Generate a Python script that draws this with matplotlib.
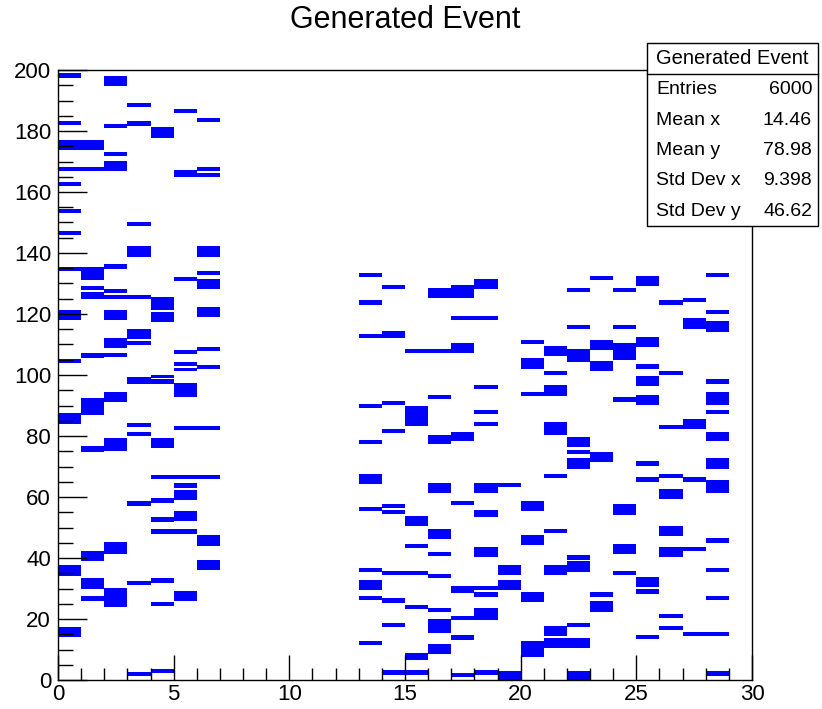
import matplotlib
matplotlib.use("Agg")
import matplotlib.pyplot as plt
from matplotlib.patches import Rectangle
from matplotlib.lines import Line2D
from matplotlib.ticker import MultipleLocator

plt.rcParams["font.family"] = ["Liberation Sans", "DejaVu Sans"]

# filled y ranges (low, high) in each x bin of width 1
seg_00 = [(197.5, 198.8), (182, 183), (174, 177), (167, 168), (162, 163), (153.2, 154.3),
          (146, 147), (134.2, 135.3), (118.2, 121), (104.2, 105.2), (84.2, 87.3),
          (34.2, 37.4), (14.3, 17.3)]
seg_01 = [(174, 177), (167, 168), (131.2, 135.3), (128, 129), (125, 127), (105.8, 107.1),
          (87, 92.2), (75, 76.6), (39.2, 42.2), (30.1, 33.4), (26, 27.3)]
seg_02 = [(195, 198), (181, 182.2), (172.1, 173.1), (167.1, 170.1), (135, 136.1), (127, 127.9),
          (125, 126), (118.2, 121), (109, 112), (106, 107.1), (91.2, 94.2), (75.1, 79.2),
          (41.3, 45.2), (24, 30.1)]
seg_03 = [(188, 189), (181.8, 183), (149, 150), (139, 142), (125, 126), (112, 115), (110, 111),
          (97.1, 99.1), (83.1, 84.2), (80.1, 81.2), (57.1, 58.4), (31.2, 32.2), (1.3, 2.6)]
seg_04 = [(178, 181.2), (121.4, 125.3), (117.6, 120.6), (99.1, 100), (97.1, 98.5), (76.2, 79.2),
          (66, 67.1), (58.2, 59.4), (52, 53.2), (48, 49.4), (32.1, 33.4), (24.3, 25.3),
          (2.6, 3.6)]
seg_05 = [(186, 187), (165, 167.1), (131, 132.1), (107, 108), (103, 104), (101.3, 102.2),
          (93.1, 97.1), (82.1, 83.1), (66, 67.1), (63.2, 64.3), (59.2, 62), (52.2, 55.2),
          (48, 49.4), (26, 29)]
seg_06 = [(183, 184), (167, 168), (165, 166), (139, 142), (133.1, 134.1), (128.2, 131.2),
          (119.1, 122.1), (108, 109), (102, 103), (82, 83), (66, 67), (44.2, 47.3),
          (36.1, 39.2)]
seg_13 = [(132.2, 133.3), (123.2, 124.3), (112.3, 113.4), (89.4, 90.5), (77.5, 78.6),
          (64.5, 67.4), (55.6, 56.7), (35.5, 36.6), (29.5, 32.5), (26.4, 27.5), (11.5, 12.6)]
seg_14 = [(128.3, 129.4), (112.3, 114.4), (90.3, 91.4), (81.2, 82.3), (56.5, 57.6), (54.5, 55.6),
          (34.6, 35.7), (25.5, 26.6), (17.6, 18.7), (1.9, 3)]
seg_15 = [(107.4, 108.5), (83.3, 89.6), (50.5, 53.6), (43.4, 44.5), (34.6, 35.7), (23.5, 24.6),
          (6.6, 8.7), (1.9, 3)]
seg_16 = [(125.4, 128.3), (107.4, 108.5), (92.3, 93.4), (77.6, 80.3), (61.5, 64.5), (46.4, 49.5),
          (40.7, 41.7), (33.6, 34.6), (22.5, 23.6), (15.6, 19.7), (8.7, 11.7)]
seg_17 = [(125.4, 129.4), (118.2, 119.3), (107.4, 110.4), (78.6, 81.3), (57.6, 58.5),
          (28.6, 30.6), (19.7, 20.8), (13.4, 14.5), (1.1, 2.2)]
seg_18 = [(128.3, 131.4), (118.2, 119.3), (95.4, 96.5), (87.3, 88.4), (83.3, 84.4), (61.5, 64.5),
          (53.6, 55.6), (40.5, 43.5), (29.5, 30.6), (27.5, 28.6), (19.7, 23.5), (1.9, 3)]
seg_19 = [(63.4, 64.5), (34.6, 37.7), (29.5, 32.6), (0, 2.7)]
seg_20 = [(110.3, 111.4), (102.2, 105.4), (93.2, 94.3), (55.6, 58.7), (44.5, 47.4), (25.6, 28.6),
          (7.7, 12.6)]
seg_21 = [(106.3, 109.5), (100.2, 101.3), (93.4, 96.5), (80.4, 84.4), (66.3, 67.4), (48.4, 49.5),
          (34.6, 37.7), (14.5, 17.6), (10.6, 13.7)]
seg_22 = [(127.2, 128.3), (115.3, 116.4), (104.4, 108.4), (76.5, 79.5), (74.3, 75.4), (69.4, 72.5),
          (39.6, 40.7), (35.5, 38.8), (17.6, 18.7), (10.6, 13.7), (0, 2.7)]
seg_23 = [(131.3, 132.3), (108.2, 111.4), (101.3, 104.4), (71.5, 74.5), (27.5, 28.6), (22.6, 25.6)]
seg_24 = [(127.2, 128.3), (115.3, 116.4), (105.1, 110.4), (91.4, 92.5), (54.4, 57.6), (41.5, 44.5),
          (34.5, 35.6)]
seg_25 = [(129.2, 132.3), (109.3, 112.3), (102.2, 103.3), (96.4, 99.5), (90.4, 93.4), (70.4, 71.5),
          (65.2, 66.3), (30.6, 33.6), (28.5, 29.6), (13.6, 14.6)]
seg_26 = [(123.2, 124.3), (100.2, 101.3), (82.3, 83.4), (66.3, 67.4), (59.5, 62.4), (47.4, 50.5),
          (40.5, 43.5), (20.5, 21.6), (16.5, 17.6)]
seg_27 = [(124.2, 125.2), (115.3, 118.5), (82.3, 85.4), (65.2, 66.3), (42.4, 43.5), (14.5, 15.6)]
seg_28 = [(132.2, 133.3), (120, 121.1), (114.3, 117.5), (97.3, 98.4), (90.4, 94.4), (87.3, 88.4),
          (78.4, 81.3), (69.4, 72.5), (61.5, 65.5), (45.2, 46.3), (35.5, 36.6), (26.4, 27.5),
          (14.5, 15.6), (1.6, 2.7)]

columns = [(0, seg_00), (1, seg_01), (2, seg_02), (3, seg_03), (4, seg_04), (5, seg_05),
           (6, seg_06), (13, seg_13), (14, seg_14), (15, seg_15), (16, seg_16), (17, seg_17),
           (18, seg_18), (19, seg_19), (20, seg_20), (21, seg_21), (22, seg_22), (23, seg_23),
           (24, seg_24), (25, seg_25), (26, seg_26), (27, seg_27), (28, seg_28)]

title = "Generated Event"
stat_names = ["Entries", "Mean x", "Mean y", "Std Dev x", "Std Dev y"]
stat_values = ["6000", "14.46", "78.98", "9.398", "46.62"]

W, H = 822, 709
fig = plt.figure(figsize=(W / 100, H / 100), dpi=100)
ax = fig.add_axes([58 / W, 1 - 680 / H, (752 - 58) / W, (680 - 70) / H])

xs, bottoms, heights = [], [], []
for x, segs in columns:
    for lo, hi in segs:
        xs.append(x)
        bottoms.append(lo - 0.15)
        heights.append(hi - lo + 0.3)
ax.bar(xs, heights, bottom=bottoms, width=1, align="edge", color="#0000ff", linewidth=0)

ax.set_xlim(0, 30)
ax.set_ylim(0, 200)
ax.xaxis.set_major_locator(MultipleLocator(5))
ax.xaxis.set_minor_locator(MultipleLocator(1))
ax.yaxis.set_major_locator(MultipleLocator(20))
ax.yaxis.set_minor_locator(MultipleLocator(5))
ax.tick_params(which="both", direction="in", top=False, right=False, labelsize=16, width=1)
ax.tick_params(axis="y", which="major", length=21, pad=5)
ax.tick_params(axis="y", which="minor", length=11)
ax.tick_params(axis="x", which="major", length=18, pad=3)
ax.tick_params(axis="x", which="minor", length=9)
for s in ax.spines.values():
    s.set_linewidth(1)

fig.text(405 / W, 1 - 20 / H, title, ha="center", va="center", fontsize=22)

# stats box
bx0, bx1, by0, by1 = 647, 818, 43, 226
fig.add_artist(Rectangle((bx0 / W, 1 - by1 / H), (bx1 - bx0) / W, (by1 - by0) / H,
                         transform=fig.transFigure, facecolor="white", edgecolor="black",
                         linewidth=1, zorder=5))
fig.add_artist(Line2D([bx0 / W, bx1 / W], [1 - 74 / H, 1 - 74 / H], transform=fig.transFigure,
                      color="black", linewidth=1, zorder=6))
fig.text((bx0 + bx1) / 2 / W, 1 - 59 / H, title, ha="center", va="center", fontsize=14.5, zorder=7)
for i, (name, val) in enumerate(zip(stat_names, stat_values)):
    yy = 1 - (90 + i * 30.3) / H
    fig.text(656 / W, yy, name, ha="left", va="center", fontsize=14, zorder=7)
    fig.text(812 / W, yy, val, ha="right", va="center", fontsize=14, zorder=7)

fig.savefig("out.png", dpi=100)
